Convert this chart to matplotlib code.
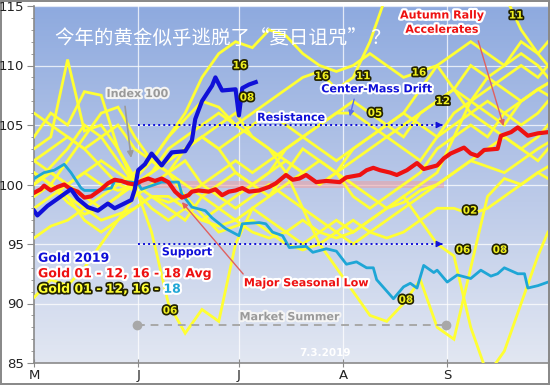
import matplotlib
matplotlib.use("Agg")
import matplotlib.pyplot as plt
import matplotlib.patheffects as pe
import numpy as np
from matplotlib.colors import LinearSegmentedColormap

# ---------------- data ----------------
# x in days since May 1 (May 1 = 0, Oct 1 = 153)
month_ticks = [0, 31, 61, 92, 123, 153]
month_labels = ["M", "J", "J", "A", "S", ""]
y_ticks = [85, 90, 95, 100, 105, 110, 115]

yr_days = [0, 5, 10, 15, 20, 25, 30, 35, 40, 45, 50, 55, 60, 65, 70, 75, 80, 85,
           90, 95, 100, 105, 110, 115, 120, 125, 130, 135, 140, 145, 150, 153]
y01 = [95.5, 96.5, 97, 98, 99, 100, 99.5, 98, 97, 98, 97, 96.5, 97, 96, 95.5, 96, 97, 96, 95.5, 96, 97, 98, 98.5, 99.5, 100, 101, 102, 101.5, 101, 102, 103, 103.5]
y02 = [103, 104, 110.5, 104.5, 105, 103, 100.5, 102, 101, 99, 97.5, 96, 96.5, 97, 96, 95, 94.5, 95, 96, 97, 96, 95.5, 96, 97, 98, 98, 97.5, 98, 99, 100, 101, 100.5]
y03 = [100, 101.5, 103, 105, 104, 102, 100, 99, 98.5, 99, 100, 101, 102, 101, 102, 103, 104, 103, 102, 103, 104, 105, 106, 105, 104, 106, 107, 106, 105, 107, 108, 108.5]
y04 = [90.5, 92, 91.5, 93, 95, 97, 99, 100, 101, 102, 100, 99, 98, 99, 100, 99, 98, 97, 96, 95, 96, 97, 98, 99, 100, 101, 102, 103, 104, 103, 104, 105]
y05 = [98, 99, 100, 99, 98, 99, 100, 101, 102, 103, 104, 103, 104, 105, 106, 105, 104, 105, 106, 107, 106, 105, 106, 108, 110, 111, 112, 111, 110, 112, 111, 112]
y06 = [104, 106, 105, 107.8, 107.5, 103, 100, 96, 90, 87.5, 89.5, 88.5, 95, 98, 97, 96, 95, 96, 97, 96, 97, 98, 99, 97, 95, 94, 88, 84, 86, 90, 94, 96]
y07 = [101, 100, 99, 98, 97, 97.5, 98, 99, 99, 98, 97, 98, 99, 100, 101, 102, 101, 100, 101, 99, 98, 99, 100, 101, 103, 104, 105, 104, 106, 107, 108, 108.5]
y08 = [106, 105, 104, 103, 101.5, 100, 101, 102, 104, 105.5, 107, 106.5, 105, 104, 103, 101, 98, 95, 93, 91, 89, 88.5, 90, 92, 88, 87, 93, 99, 100.5, 100, 101, 101.5]
y09 = [99, 100, 102, 104, 106, 106.5, 104, 102, 101, 100, 99, 98, 97, 98, 99, 100, 101, 102, 101, 100, 99, 98, 99, 100, 101, 104, 107, 109, 108, 107, 108, 107.5]
y10 = [102, 103, 104, 103, 104, 105, 103, 102, 101, 103, 104, 105, 106, 104, 103, 102, 101, 100, 101, 102, 103, 104, 103, 102, 104, 105, 106, 107, 106, 105, 106, 107]
y11 = [102, 101, 100, 101, 100, 99.5, 100, 101, 103, 104, 105, 106, 105, 106, 107, 108, 109, 109.5, 108, 109, 112, 116, 118, 117, 118, 119, 118, 117, 116, 113, 111, 110]
y12 = [101, 100, 99, 97, 96, 97, 98, 99, 98, 97, 99, 100, 101, 100, 99, 101, 103, 102, 101, 103, 104, 105, 104, 106, 107, 108, 110, 109, 110, 111, 110, 109]
y16 = [99, 100, 98.5, 97.5, 98, 99, 100.5, 102, 104, 106, 109, 111, 112, 111.5, 113, 112.5, 111, 110, 109.5, 110, 111, 110, 109, 109.5, 110, 108, 107, 108, 109, 110, 109, 110]
y17 = [100, 101, 100, 101, 102, 101, 100, 101, 102, 103, 104, 103, 101, 100, 101, 103, 104, 105, 106, 106, 105, 104, 105, 106, 107, 108, 106, 105, 104, 103, 102, 103]
yellow_years = [y01, y02, y03, y04, y05, y06, y07, y08, y09, y10, y11, y12, y16, y17]

avg_days = [0, 2, 3, 5, 7, 9, 11, 13, 15, 17, 20, 22, 24, 26, 28, 30, 32, 34, 36, 38, 40, 42, 44,
            46, 47, 49, 52, 54, 56, 58, 60, 62, 64, 67, 70, 72, 75, 77, 79, 81, 84, 87, 91, 93,
            97, 99, 101, 103, 106, 108, 111, 114, 116, 120, 122, 124, 128, 130, 132, 134, 138,
            139, 142, 144, 147, 150, 153]
avg_vals = [99.3, 99.6, 99.9, 99.5, 99.8, 100.0, 99.6, 99.4, 98.9, 99.0, 99.6, 100.1, 100.4,
            100.3, 100.1, 100.0, 100.3, 100.5, 100.3, 100.5, 100.2, 99.4, 98.9, 99.1, 99.4,
            99.5, 99.4, 99.6, 99.1, 99.4, 99.5, 99.7, 99.4, 99.5, 99.8, 100.1, 100.8, 100.4,
            100.5, 100.8, 100.2, 100.3, 100.2, 100.6, 100.8, 101.2, 101.4, 101.2, 101.0, 100.8,
            101.2, 101.8, 101.3, 101.6, 102.2, 102.6, 103.1, 102.6, 102.4, 102.9, 103.0, 104.1,
            104.4, 104.8, 104.1, 104.3, 104.4]

g18_days = [0, 3, 6, 9, 11, 14, 15, 19, 23, 24, 29, 31, 32, 37, 38, 43, 44, 47, 51, 53, 57,
            61, 62, 67, 69, 71, 74, 76, 81, 83, 87, 90, 93, 96, 99, 101, 102, 107, 110, 112,
            114, 116, 119, 120, 123, 126, 130, 133, 136, 138, 140, 144, 146, 147, 150, 153]
g18_vals = [100.5, 101.0, 101.2, 101.7, 101.0, 99.7, 99.5, 99.5, 99.7, 100.3, 100.2, 100.1,
            99.6, 100.1, 100.2, 100.2, 99.2, 98.1, 97.8, 97.2, 96.3, 95.7, 96.7, 96.8, 96.7,
            96.0, 95.7, 94.7, 94.8, 94.3, 94.6, 94.4, 93.3, 93.5, 93.0, 93.0, 92.0, 90.4, 91.4,
            91.7, 91.3, 93.2, 92.6, 92.8, 91.8, 92.4, 92.1, 92.8, 92.3, 92.5, 93.0, 92.5, 92.5,
            91.3, 91.5, 91.8]

g19_days = [0, 1, 4, 6, 9, 11, 13, 16, 19, 22, 24, 29, 30, 31, 33, 35, 38, 41, 45, 47, 48,
            50, 53, 54, 56, 60, 61, 62, 64, 66]
g19_vals = [97.8, 97.4, 98.2, 98.6, 99.2, 99.6, 98.8, 98.1, 97.8, 98.4, 98.0, 98.7, 99.6,
            101.2, 101.7, 102.6, 101.6, 102.7, 102.8, 103.7, 105.5, 107.0, 108.3, 109.0, 107.9,
            108.0, 105.8, 108.1, 108.4, 108.6]

# ---------------- figure ----------------
YEL = "#ffff33"
RED = "#ee1111"
BLUE = "#1010d8"
CYAN = "#1ea6d6"

fig = plt.figure(figsize=(5.5, 3.85), dpi=100)
fig.patch.set_facecolor("white")
fig.patch.set_edgecolor("#8a8a8a")
fig.patch.set_linewidth(1.5)
ax = fig.add_axes([34 / 550, 1 - 363 / 385, (548 - 34) / 550, (363 - 6) / 385])
ax.set_xlim(0, 153)
ax.set_ylim(85, 115)

cmap = LinearSegmentedColormap.from_list("bg", ["#e2e7f2", "#b9c8e8", "#8eaadf"])
grad = np.linspace(0, 1, 256).reshape(-1, 1)
ax.imshow(grad, extent=[0, 153, 85, 115], aspect="auto", origin="lower", cmap=cmap, zorder=0)

for yv in y_ticks:
    ax.axhline(yv, color="white", lw=0.9, alpha=0.75, zorder=1)
for xv in month_ticks[1:-1]:
    ax.axvline(xv, color="white", lw=0.9, alpha=0.75, zorder=1)

# pink index band
ax.fill_between([31, 122], 99.7, 100.3, color="#f0a0a0", alpha=0.55, zorder=2, lw=0)

for s in yellow_years:
    ax.plot(yr_days, s, color=YEL, lw=2.0, zorder=3, solid_joinstyle="miter")
ax.plot(g18_days, g18_vals, color=CYAN, lw=2.0, zorder=4)
ax.plot(avg_days, avg_vals, color=RED, lw=3.0, zorder=5)
ax.plot(g19_days, g19_vals, color=BLUE, lw=3.0, zorder=6)

# axes styling
for sp in ["top", "right"]:
    ax.spines[sp].set_visible(False)
for sp in ["left", "bottom"]:
    ax.spines[sp].set_color("#8a8a8a")
    ax.spines[sp].set_linewidth(1.2)
ax.set_yticks(y_ticks)
ax.set_yticks(np.arange(85, 116, 1), minor=True)
ax.set_xticks(month_ticks)
ax.set_xticklabels(month_labels)
ax.tick_params(axis="y", which="major", length=5, color="#8a8a8a", labelsize=9.5, labelcolor="#222", pad=2)
ax.tick_params(axis="y", which="minor", length=2.5, color="#8a8a8a")
ax.tick_params(axis="x", which="major", length=6, direction="inout", color="#8a8a8a", labelsize=9.5, labelcolor="#222", pad=1)

# ---------------- annotations ----------------
white_halo = [pe.withStroke(linewidth=3, foreground="white")]
dark_halo = [pe.withStroke(linewidth=2.5, foreground="#222200")]
gray_halo = [pe.withStroke(linewidth=3, foreground="#f4f4f4")]
red_halo = [pe.withStroke(linewidth=3.2, foreground="white")]

ax.text(6.3, 112.3, "今年的黄金似乎逃脱了“夏日诅咒” ？", color="white", fontsize=14,
        family=["Noto Sans CJK SC", "DejaVu Sans"], va="center", ha="left", zorder=10)

# Index 100
ax.text(30.7, 107.6, "Index 100", color="#9a9a9a", fontsize=8, fontweight="bold",
        ha="center", va="center", path_effects=gray_halo, zorder=10)
ax.annotate("", xy=(29, 102.0), xytext=(27, 106.8),
            arrowprops=dict(arrowstyle="-|>", color="#9a9a9a", lw=1.2, mutation_scale=9), zorder=10)

# Resistance / Support
for lvl in [105, 95]:
    ax.plot([31, 121], [lvl, lvl], color=BLUE, lw=1.4, ls=(0, (1, 1.6)), zorder=8)
    ax.annotate("", xy=(122.5, lvl), xytext=(120.5, lvl),
                arrowprops=dict(arrowstyle="-|>", color=BLUE, lw=1.0, mutation_scale=9), zorder=8)
ax.text(76.5, 105.6, "Resistance", color=BLUE, fontsize=8, fontweight="bold",
        ha="center", va="center", path_effects=white_halo, zorder=10)
ax.text(45.5, 94.3, "Support", color=BLUE, fontsize=8, fontweight="bold",
        ha="center", va="center", path_effects=white_halo, zorder=10)

# Center-Mass Drift
ax.text(102, 108.0, "Center-Mass Drift", color=BLUE, fontsize=8, fontweight="bold",
        ha="center", va="center", path_effects=white_halo, zorder=10)
ax.annotate("", xy=(93.8, 105.5), xytext=(95.5, 107.4),
            arrowprops=dict(arrowstyle="-|>", color="#5a6ee8", lw=1.0, mutation_scale=8), zorder=10)

# Autumn Rally
ax.text(121.4, 114.2, "Autumn Rally", color=RED, fontsize=8, fontweight="bold",
        ha="center", va="center", path_effects=red_halo, zorder=10)
ax.text(121.4, 113.0, "Accelerates", color=RED, fontsize=8, fontweight="bold",
        ha="center", va="center", path_effects=red_halo, zorder=10)
ax.annotate("", xy=(140, 104.7), xytext=(132, 112.3),
            arrowprops=dict(arrowstyle="-|>", color="#e06060", lw=1.0, mutation_scale=8), zorder=10)

# Major Seasonal Low
ax.text(81, 91.7, "Major Seasonal Low", color=RED, fontsize=8, fontweight="bold",
        ha="center", va="center", path_effects=red_halo, zorder=10)
ax.annotate("", xy=(43.5, 98.7), xytext=(62.8, 92.3),
            arrowprops=dict(arrowstyle="-|>", color="#e06060", lw=1.0, mutation_scale=8), zorder=10)

# Market Summer
ax.plot([30.7, 122.6], [88.2, 88.2], color="#a8a8a8", lw=1.4, ls=(0, (4, 3)), zorder=8)
ax.plot([30.7, 122.6], [88.2, 88.2], ls="none", marker="o", ms=6, color="#a8a8a8", zorder=8)
ax.text(76, 88.85, "Market Summer", color="#9a9a9a", fontsize=8, fontweight="bold",
        ha="center", va="center", path_effects=gray_halo, zorder=10)

# legend texts
ax.text(1.2, 93.8, "Gold 2019", color=BLUE, fontsize=9, fontweight="bold",
        ha="left", va="center", path_effects=white_halo, zorder=10)
ax.text(1.2, 92.5, "Gold 01 - 12, 16 - 18 Avg", color=RED, fontsize=9, fontweight="bold",
        ha="left", va="center", path_effects=red_halo, zorder=10)
t_y = ax.text(1.2, 91.2, "Gold 01 - 12, 16 - ", color=YEL, fontsize=9, fontweight="bold",
              ha="left", va="center", path_effects=dark_halo, zorder=10)
fig.canvas.draw()
bb = t_y.get_window_extent(renderer=fig.canvas.get_renderer())
x_end = ax.transData.inverted().transform((bb.x1, bb.y0))[0]
ax.text(x_end, 91.2, "18", color=CYAN, fontsize=9, fontweight="bold",
        ha="left", va="center", path_effects=white_halo, zorder=10)

# year labels
year_labels = [("16", 61.3, 110.0), ("08", 63.4, 107.3), ("16", 85.7, 109.1), ("11", 98, 109.1),
               ("16", 114.6, 109.4), ("05", 101.5, 106.0), ("12", 121.7, 107.0), ("11", 143.5, 114.2),
               ("02", 129.8, 97.8), ("06", 127.7, 94.5), ("08", 138.7, 94.5), ("08", 110.7, 90.3),
               ("06", 40.5, 89.4)]
for lab, xd, yv in year_labels:
    ax.text(xd, yv, lab, color="#f0f020", fontsize=7.5, fontweight="bold", ha="center",
            va="center", path_effects=dark_halo, zorder=11)

ax.text(86.6, 85.8, "7.3.2019", color="white", fontsize=7.5, fontweight="bold",
        ha="center", va="center", zorder=10)

fig.savefig("out.png", dpi=100)
